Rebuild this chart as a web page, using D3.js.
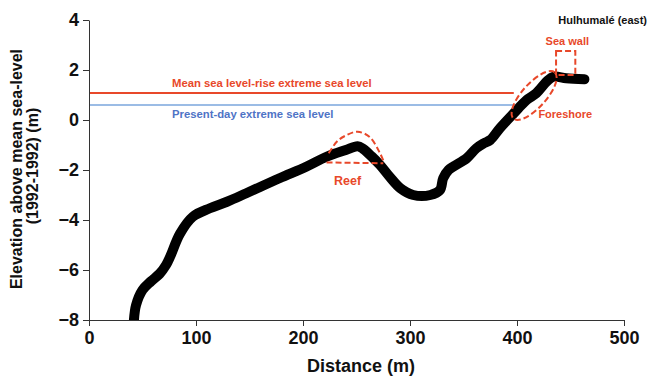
<!DOCTYPE html>
<html>
<head>
<meta charset="utf-8">
<script src="https://cdn.jsdelivr.net/npm/d3@7"></script>
<style>
  body { margin: 0; background: #fff; }
  text { font-family: "Liberation Sans", Arial, sans-serif; font-weight: bold; }
</style>
</head>
<body>
<div class="chart"></div>
<script>
var svgWidth = 654;
var svgHeight = 377;

var margin = { top: 20, right: 30, bottom: 57, left: 89 };
var width = 535;
var height = 300;

// profile: distance (m), elevation (m)
var distance = [42, 44, 50, 58, 66, 72, 76, 85, 97, 113, 129, 147, 178, 203, 222, 240, 251, 256, 264, 272, 281, 291, 303, 319, 328, 331, 336, 341, 353, 362, 369, 375, 384, 397, 409, 418, 428, 434, 446, 463];
var elevation = [-8, -7.4, -6.8, -6.45, -6.15, -5.8, -5.45, -4.55, -3.87, -3.53, -3.27, -2.93, -2.33, -1.87, -1.47, -1.2, -1.05, -1.15, -1.45, -1.8, -2.27, -2.73, -3.0, -3.0, -2.8, -2.33, -2.0, -1.85, -1.53, -1.13, -0.93, -0.8, -0.33, 0.27, 0.8, 1.07, 1.55, 1.73, 1.67, 1.63];

var xTicks = [0, 100, 200, 300, 400, 500];
var yTicks = [-8, -6, -4, -2, 0, 2, 4];

var seaLevels = [1.08, 0.6];
var seaLabels = ["Mean sea level-rise extreme sea level", "Present-day extreme sea level"];
var seaLevelEnd = 397;

// reef outline (dome + base)
var reefX = [224, 232, 241, 251, 262, 272, 276];
var reefY = [-1.33, -0.85, -0.6, -0.47, -0.67, -1.33, -1.73];
var reefBase = [[222, -1.7], [275, -1.73]];

var seaWallX = [436.5, 454.5];
var seaWallY = [1.8, 2.76];
var foreshoreCenter = [416, 0.98];

var red = "#e8482a";
var blue = "#7aa6dc";

var svg = d3.select(".chart")
  .append("svg")
  .attr("width", svgWidth)
  .attr("height", svgHeight);

var chartGroup = svg.append("g")
  .attr("transform", `translate(${margin.left}, ${margin.top})`);

var xScale = d3.scaleLinear().domain([0, 500]).range([0, width]);
var yScale = d3.scaleLinear().domain([-8, 4]).range([height, 0]);

chartGroup.append("clipPath")
  .attr("id", "plot")
  .append("rect")
  .attr("x", 0).attr("y", -20)
  .attr("width", width + 40).attr("height", height + 20);

// sea levels
chartGroup.selectAll(".sea")
  .data(seaLevels)
  .enter()
  .append("line")
  .attr("x1", 0)
  .attr("x2", xScale(seaLevelEnd))
  .attr("y1", d => yScale(d))
  .attr("y2", d => yScale(d))
  .attr("stroke", (d, i) => i == 0 ? red : blue)
  .attr("stroke-width", (d, i) => i == 0 ? 2 : 1.5);

chartGroup.append("text")
  .attr("x", 83).attr("y", yScale(seaLevels[0]) - 6.5)
  .attr("fill", red)
  .style("font-size", "11.3px")
  .text(seaLabels[0]);

chartGroup.append("text")
  .attr("x", 83).attr("y", yScale(seaLevels[1]) + 13)
  .attr("fill", "#4f74c6")
  .style("font-size", "11.3px")
  .text(seaLabels[1]);

// axes
var bottomAxis = d3.axisBottom(xScale).tickValues(xTicks).tickSize(6).tickSizeOuter(0).tickPadding(5);
var leftAxis = d3.axisLeft(yScale).tickValues(yTicks).tickSize(6).tickSizeOuter(0).tickPadding(4);

var xAxis = chartGroup.append("g")
  .attr("transform", `translate(0, ${height})`)
  .call(bottomAxis);

var yAxis = chartGroup.append("g")
  .call(leftAxis);

[xAxis, yAxis].forEach(function(ax) {
  ax.selectAll("path, line").attr("stroke", "#333");
  ax.selectAll("text")
    .attr("fill", "#111")
    .style("font-size", "18px")
    .style("font-family", "Liberation Sans, Arial, sans-serif");
});

// profile line
var profile = distance.map((d, i) => [d, elevation[i]]);
var line = d3.line()
  .x(d => xScale(d[0]))
  .y(d => yScale(d[1]))
  .curve(d3.curveCatmullRom.alpha(0.5));

chartGroup.append("path")
  .datum(profile)
  .attr("d", line)
  .attr("clip-path", "url(#plot)")
  .attr("fill", "none")
  .attr("stroke", "#000")
  .attr("stroke-width", 10)
  .attr("stroke-linecap", "round")
  .attr("stroke-linejoin", "round");

// annotations
var dash = "6,3";

chartGroup.append("path")
  .datum(reefX.map((d, i) => [d, reefY[i]]))
  .attr("d", line)
  .attr("fill", "none")
  .attr("stroke", red)
  .attr("stroke-width", 2)
  .attr("stroke-dasharray", dash);

chartGroup.append("line")
  .attr("x1", xScale(reefBase[0][0])).attr("y1", yScale(reefBase[0][1]))
  .attr("x2", xScale(reefBase[1][0])).attr("y2", yScale(reefBase[1][1]))
  .attr("stroke", red)
  .attr("stroke-width", 2)
  .attr("stroke-dasharray", dash);

chartGroup.append("text")
  .attr("x", xScale(229)).attr("y", yScale(-2.6))
  .attr("fill", red)
  .style("font-size", "12.5px")
  .text("Reef");

chartGroup.append("ellipse")
  .attr("transform", `translate(${xScale(foreshoreCenter[0])}, ${yScale(foreshoreCenter[1])}) rotate(-48)`)
  .attr("rx", 31)
  .attr("ry", 12)
  .attr("fill", "none")
  .attr("stroke", red)
  .attr("stroke-width", 2)
  .attr("stroke-dasharray", dash);

chartGroup.append("text")
  .attr("x", xScale(420)).attr("y", yScale(0.1))
  .attr("fill", red)
  .style("font-size", "11px")
  .text("Foreshore");

chartGroup.append("rect")
  .attr("x", xScale(seaWallX[0]))
  .attr("y", yScale(seaWallY[1]))
  .attr("width", xScale(seaWallX[1]) - xScale(seaWallX[0]))
  .attr("height", yScale(seaWallY[0]) - yScale(seaWallY[1]))
  .attr("fill", "none")
  .attr("stroke", red)
  .attr("stroke-width", 2)
  .attr("stroke-dasharray", dash);

chartGroup.append("text")
  .attr("x", xScale(447)).attr("y", yScale(3.0))
  .attr("text-anchor", "middle")
  .attr("fill", red)
  .style("font-size", "11px")
  .text("Sea wall");

svg.append("text")
  .attr("x", 647).attr("y", 24)
  .attr("text-anchor", "end")
  .attr("fill", "#111")
  .style("font-size", "11px")
  .text("Hulhumalé (east)");

// axis titles
svg.append("text")
  .attr("x", 361).attr("y", 372)
  .attr("text-anchor", "middle")
  .attr("fill", "#111")
  .style("font-size", "18px")
  .text("Distance (m)");

svg.append("text")
  .attr("transform", "translate(22, 169) rotate(-90)")
  .attr("text-anchor", "middle")
  .attr("fill", "#111")
  .style("font-size", "16px")
  .text("Elevation above mean sea-level");

svg.append("text")
  .attr("transform", "translate(38, 166) rotate(-90)")
  .attr("text-anchor", "middle")
  .attr("fill", "#111")
  .style("font-size", "16px")
  .text("(1992-1992) (m)");
</script>
</body>
</html>
